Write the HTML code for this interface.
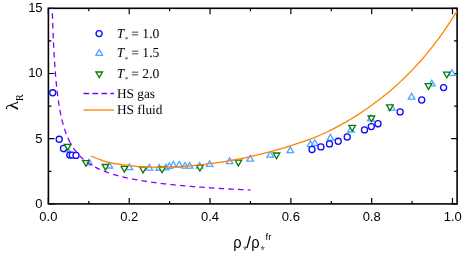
<!DOCTYPE html>
<html><head><meta charset="utf-8"><title>chart</title>
<style>
html,body{margin:0;padding:0;background:#fff;}
body{width:463px;height:256px;overflow:hidden;}
svg{display:block;}
.tk{font-family:"Liberation Sans",sans-serif;font-size:13px;fill:#000;}
.lg{font-family:"Liberation Serif",serif;font-size:13px;fill:#000;text-rendering:geometricPrecision;}
</style></head><body>
<svg width="463" height="256" viewBox="0 0 463 256">
<rect width="463" height="256" fill="#fff"/>
<g opacity="0.999">
<rect x="48.40" y="8.30" width="408.70" height="195.60" fill="none" stroke="#000" stroke-width="1.6"/>
<path d="M48.40,203.90 v-6.00 M48.40,8.30 v6.00 M88.81,203.90 v-3.00 M88.81,8.30 v3.00 M129.22,203.90 v-6.00 M129.22,8.30 v6.00 M169.63,203.90 v-3.00 M169.63,8.30 v3.00 M210.04,203.90 v-6.00 M210.04,8.30 v6.00 M250.45,203.90 v-3.00 M250.45,8.30 v3.00 M290.86,203.90 v-6.00 M290.86,8.30 v6.00 M331.27,203.90 v-3.00 M331.27,8.30 v3.00 M371.68,203.90 v-6.00 M371.68,8.30 v6.00 M412.09,203.90 v-3.00 M412.09,8.30 v3.00 M452.50,203.90 v-6.00 M452.50,8.30 v6.00 M48.40,203.90 h6.00 M457.10,203.90 h-6.00 M48.40,171.30 h3.00 M457.10,171.30 h-3.00 M48.40,138.70 h6.00 M457.10,138.70 h-6.00 M48.40,106.10 h3.00 M457.10,106.10 h-3.00 M48.40,73.50 h6.00 M457.10,73.50 h-6.00 M48.40,40.90 h3.00 M457.10,40.90 h-3.00 M48.40,8.30 h6.00 M457.10,8.30 h-6.00" stroke="#000" stroke-width="1.2" fill="none"/>
<g fill="#fff" stroke="#4da6ff" stroke-width="1.30"><path d="M67.00,146.20 L70.30,151.90 L63.70,151.90 Z"/><path d="M89.00,159.20 L92.30,164.90 L85.70,164.90 Z"/><path d="M109.40,162.30 L112.70,168.00 L106.10,168.00 Z"/><path d="M129.30,163.90 L132.60,169.60 L126.00,169.60 Z"/><path d="M149.30,164.45 L152.60,170.15 L146.00,170.15 Z"/><path d="M159.25,164.55 L162.55,170.25 L155.95,170.25 Z"/><path d="M165.80,164.25 L169.10,169.95 L162.50,169.95 Z"/><path d="M169.30,162.75 L172.60,168.45 L166.00,168.45 Z"/><path d="M173.30,161.45 L176.60,167.15 L170.00,167.15 Z"/><path d="M179.30,161.45 L182.60,167.15 L176.00,167.15 Z"/><path d="M185.10,162.45 L188.40,168.15 L181.80,168.15 Z"/><path d="M189.50,162.45 L192.80,168.15 L186.20,168.15 Z"/><path d="M199.60,162.45 L202.90,168.15 L196.30,168.15 Z"/><path d="M209.60,160.75 L212.90,166.45 L206.30,166.45 Z"/><path d="M229.60,157.90 L232.90,163.60 L226.30,163.60 Z"/><path d="M250.10,155.40 L253.40,161.10 L246.80,161.10 Z"/><path d="M270.20,151.50 L273.50,157.20 L266.90,157.20 Z"/><path d="M290.30,146.90 L293.60,152.60 L287.00,152.60 Z"/><path d="M310.50,140.90 L313.80,146.60 L307.20,146.60 Z"/><path d="M314.80,139.80 L318.10,145.50 L311.50,145.50 Z"/><path d="M330.40,134.40 L333.70,140.10 L327.10,140.10 Z"/><path d="M350.90,126.30 L354.20,132.00 L347.60,132.00 Z"/><path d="M370.80,115.10 L374.10,120.80 L367.50,120.80 Z"/><path d="M391.80,104.50 L395.10,110.20 L388.50,110.20 Z"/><path d="M411.60,93.40 L414.90,99.10 L408.30,99.10 Z"/><path d="M431.80,80.20 L435.10,85.90 L428.50,85.90 Z"/><path d="M451.90,69.70 L455.20,75.40 L448.60,75.40 Z"/></g>
<g fill="#fff" stroke="#0a0aff" stroke-width="1.30"><circle cx="52.70" cy="92.80" r="3.05"/><circle cx="59.20" cy="139.30" r="3.05"/><circle cx="63.50" cy="148.50" r="3.05"/><circle cx="69.80" cy="155.10" r="3.05"/><circle cx="72.20" cy="155.10" r="3.05"/><circle cx="76.00" cy="155.40" r="3.05"/><circle cx="312.00" cy="149.50" r="3.05"/><circle cx="320.90" cy="146.90" r="3.05"/><circle cx="329.50" cy="143.90" r="3.05"/><circle cx="338.20" cy="141.30" r="3.05"/><circle cx="347.20" cy="137.00" r="3.05"/><circle cx="364.50" cy="129.90" r="3.05"/><circle cx="371.30" cy="126.60" r="3.05"/><circle cx="378.00" cy="123.70" r="3.05"/><circle cx="400.10" cy="111.90" r="3.05"/><circle cx="421.70" cy="100.00" r="3.05"/><circle cx="443.60" cy="87.60" r="3.05"/></g>
<g fill="#fff" stroke="#0a7a0a" stroke-width="1.30"><path d="M67.70,150.10 L71.00,144.40 L64.40,144.40 Z"/><path d="M86.00,166.25 L89.30,160.55 L82.70,160.55 Z"/><path d="M105.50,170.20 L108.80,164.50 L102.20,164.50 Z"/><path d="M124.40,172.10 L127.70,166.40 L121.10,166.40 Z"/><path d="M143.10,172.90 L146.40,167.20 L139.80,167.20 Z"/><path d="M162.10,172.70 L165.40,167.00 L158.80,167.00 Z"/><path d="M199.90,171.00 L203.20,165.30 L196.60,165.30 Z"/><path d="M238.40,165.90 L241.70,160.20 L235.10,160.20 Z"/><path d="M276.50,158.70 L279.80,153.00 L273.20,153.00 Z"/><path d="M352.20,131.00 L355.50,125.30 L348.90,125.30 Z"/><path d="M371.40,121.70 L374.70,116.00 L368.10,116.00 Z"/><path d="M389.90,110.60 L393.20,104.90 L386.60,104.90 Z"/><path d="M428.50,89.40 L431.80,83.70 L425.20,83.70 Z"/><path d="M446.80,77.80 L450.10,72.10 L443.50,72.10 Z"/></g>
<path d="M52.21,8.30 L52.25,9.59 L52.29,10.88 L52.33,12.15 L52.37,13.42 L52.41,14.68 L52.45,15.93 L52.49,17.18 L52.53,18.41 L52.57,19.64 L52.61,20.85 L52.66,22.06 L52.70,23.27 L52.74,24.46 L52.78,25.65 L52.83,26.83 L52.87,28.00 L52.92,29.16 L52.96,30.31 L53.01,31.46 L53.05,32.60 L53.10,33.74 L53.15,34.86 L53.20,35.98 L53.24,37.09 L53.29,38.19 L53.34,39.29 L53.39,40.38 L53.44,41.46 L53.49,42.53 L53.54,43.60 L53.59,44.66 L53.65,45.71 L53.70,46.76 L53.75,47.79 L53.80,48.83 L53.86,49.85 L53.91,50.87 L53.97,51.88 L54.02,52.89 L54.08,53.89 L54.14,54.88 L54.19,55.86 L54.25,56.84 L54.31,57.81 L54.37,58.78 L54.43,59.74 L54.49,60.69 L54.55,61.64 L54.61,62.58 L54.67,63.51 L54.74,64.44 L54.80,65.36 L54.86,66.28 L54.93,67.19 L54.99,68.09 L55.06,68.99 L55.13,69.88 L55.19,70.77 L55.26,71.65 L55.33,72.52 L55.40,73.39 L55.47,74.26 L55.54,75.11 L55.61,75.96 L55.68,76.81 L55.76,77.65 L55.83,78.49 L55.90,79.31 L55.98,80.14 L56.06,80.96 L56.13,81.77 L56.21,82.58 L56.29,83.38 L56.37,84.18 L56.45,84.97 L56.53,85.75 L56.61,86.54 L56.69,87.31 L56.77,88.08 L56.86,88.85 L56.94,89.61 L57.03,90.36 L57.11,91.11 L57.20,91.86 L57.29,92.60 L57.38,93.34 L57.47,94.07 L57.56,94.79 L57.65,95.52 L57.74,96.23 L57.83,96.94 L57.93,97.65 L58.02,98.35 L58.12,99.05 L58.22,99.74 L58.32,100.43 L58.41,101.12 L58.51,101.80 L58.62,102.47 L58.72,103.14 L58.82,103.81 L58.93,104.47 L59.03,105.13 L59.14,105.78 L59.24,106.43 L59.35,107.07 L59.46,107.71 L59.57,108.35 L59.68,108.98 L59.80,109.61 L59.91,110.23 L60.03,110.85 L60.14,111.47 L60.26,112.08 L60.38,112.69 L60.50,113.29 L60.62,113.89 L60.74,114.48 L60.87,115.07 L60.99,115.66 L61.12,116.24 L61.24,116.82 L61.37,117.40 L61.50,117.97 L61.63,118.54 L61.76,119.10 L61.90,119.67 L62.03,120.22 L62.17,120.78 L62.31,121.32 L62.45,121.87 L62.59,122.41 L62.73,122.95 L62.87,123.49 L63.02,124.02 L63.16,124.55 L63.31,125.07 L63.46,125.59 L63.61,126.11 L63.76,126.62 L63.92,127.14 L64.07,127.64 L64.23,128.15 L64.39,128.65 L64.55,129.15 L64.71,129.64 L64.87,130.13 L65.04,130.62 L65.20,131.10 L65.37,131.58 L65.54,132.06 L65.71,132.54 L65.88,133.01 L66.06,133.48 L66.24,133.94 L66.41,134.41 L66.59,134.87 L66.78,135.32 L66.96,135.78 L67.14,136.23 L67.33,136.67 L67.52,137.12 L67.71,137.56 L67.91,138.00 L68.10,138.43 L68.30,138.87 L68.50,139.30 L68.70,139.72 L68.90,140.15 L69.11,140.57 L69.31,140.99 L69.52,141.40 L69.73,141.82 L69.95,142.23 L70.16,142.64" fill="none" stroke="#8000ff" stroke-width="1.3" stroke-dasharray="5.5 4.2" stroke-dashoffset="4.70"/>
<path d="M70.16,142.64 L70.38,143.04 L70.60,143.44 L70.82,143.84 L71.05,144.24 L71.27,144.63 L71.50,145.03 L71.73,145.42 L71.97,145.80 L72.20,146.19 L72.44,146.57 L72.68,146.95 L72.92,147.32 L73.17,147.70 L73.42,148.07 L73.67,148.44 L73.92,148.80 L74.17,149.17 L74.43,149.53 L74.69,149.89 L74.95,150.25 L75.22,150.60 L75.49,150.95 L75.76,151.30 L76.03,151.65 L76.31,152.00 L76.59,152.34 L76.87,152.68 L77.15,153.02 L77.44,153.36 L77.73,153.69 L78.03,154.02 L78.32,154.35 L78.62,154.68 L78.92,155.01 L79.23,155.33 L79.54,155.65 L79.85,155.97 L80.16,156.29 L80.48,156.60 L80.80,156.91 L81.13,157.22 L81.45,157.53 L81.78,157.84 L82.12,158.14 L82.45,158.45 L82.79,158.75 L83.14,159.05 L83.49,159.34 L83.84,159.64 L84.19,159.93 L84.55,160.22 L84.91,160.51 L85.28,160.80 L85.64,161.08 L86.02,161.36 L86.39,161.65 L86.77,161.92 L87.16,162.20 L87.54,162.48 L87.94,162.75 L88.33,163.02 L88.73,163.29 L89.13,163.56 L89.54,163.83 L89.95,164.09 L90.37,164.36 L90.79,164.62 L91.21,164.88 L91.64,165.14 L92.07,165.39 L92.51,165.65 L92.95,165.90 L93.40,166.15 L93.85,166.40 L94.30,166.65 L94.76,166.90 L95.22,167.14 L95.69,167.38 L96.16,167.62 L96.64,167.86 L97.12,168.10 L97.61,168.34 L98.10,168.57 L98.60,168.81 L99.10,169.04 L99.61,169.27 L100.12,169.50 L100.64,169.73 L101.16,169.95 L101.69,170.18 L102.22,170.40 L102.76,170.62 L103.30,170.84 L103.85,171.06 L104.41,171.28 L104.97,171.49 L105.53,171.71 L106.10,171.92 L106.68,172.13 L107.26,172.34 L107.85,172.55 L108.45,172.76 L109.05,172.96 L109.65,173.17 L110.27,173.37 L110.88,173.57 L111.51,173.77 L112.14,173.97 L112.78,174.17 L113.42,174.37 L114.07,174.56 L114.73,174.76 L115.39,174.95 L116.06,175.14 L116.74,175.33 L117.42,175.52 L118.11,175.71 L118.81,175.89 L119.51,176.08 L120.22,176.26 L120.94,176.45 L121.67,176.63 L122.40,176.81 L123.14,176.99 L123.89,177.16 L124.64,177.34 L125.41,177.52 L126.18,177.69 L126.95,177.86 L127.74,178.04 L128.53,178.21 L129.33,178.38 L130.14,178.55 L130.96,178.71 L131.79,178.88 L132.62,179.05 L133.46,179.21 L134.31,179.37 L135.17,179.54 L136.04,179.70 L136.92,179.86 L137.80,180.02 L138.69,180.17 L139.60,180.33 L140.51,180.49 L141.43,180.64 L142.36,180.79 L143.30,180.95 L144.25,181.10 L145.21,181.25 L146.18,181.40 L147.15,181.55 L148.14,181.70 L149.14,181.84 L150.15,181.99 L151.16,182.13 L152.19,182.28 L153.23,182.42 L154.28,182.56 L155.34,182.70 L156.41,182.84 L157.49,182.98 L158.58,183.12 L159.68,183.26 L160.79,183.40 L161.91,183.53 L163.05,183.67 L164.20,183.80 L165.35,183.93 L166.52,184.06 L167.71,184.20 L168.90,184.33 L170.10,184.45 L171.32,184.58 L172.55,184.71 L173.79,184.84 L175.04,184.96 L176.31,185.09 L177.59,185.21 L178.88,185.34 L180.19,185.46 L181.51,185.58 L182.84,185.70 L184.18,185.82 L185.54,185.94 L186.91,186.06 L188.29,186.18 L189.69,186.30 L191.11,186.41 L192.53,186.53 L193.98,186.64 L195.43,186.76 L196.90,186.87 L198.39,186.98 L199.89,187.10 L201.40,187.21 L202.93,187.32 L204.48,187.43 L206.04,187.54 L207.61,187.64 L209.21,187.75 L210.81,187.86 L212.44,187.96 L214.08,188.07 L215.73,188.17 L217.41,188.28 L219.10,188.38 L220.81,188.48 L222.53,188.59 L224.27,188.69 L226.03,188.79 L227.81,188.89 L229.60,188.99 L231.41,189.09 L233.24,189.18 L235.09,189.28 L236.96,189.38 L238.84,189.47 L240.75,189.57 L242.67,189.66 L244.61,189.76 L246.58,189.85 L248.56,189.94 L250.45,190.03" fill="none" stroke="#8000ff" stroke-width="1.3" stroke-dasharray="5.5 4.2" stroke-dashoffset="3.33"/>
<path d="M90.80,155.99 L97.01,158.51 L100.00,159.63 L103.21,160.76 L109.00,162.63 L109.42,162.71 L115.62,163.74 L121.00,164.46 L121.83,164.59 L128.03,165.48 L134.24,166.19 L136.00,166.36 L140.44,166.73 L146.65,167.12 L147.00,167.13 L152.85,167.22 L158.00,167.19 L159.06,167.17 L165.26,167.03 L170.00,166.84 L171.47,166.81 L177.67,166.59 L181.00,166.43 L183.88,166.26 L190.08,165.82 L196.29,165.29 L197.00,165.22 L202.49,164.63 L208.70,163.87 L214.00,163.16 L214.90,163.04 L221.11,162.10 L227.31,161.09 L233.52,159.99 L235.00,159.71 L239.72,158.80 L245.93,157.53 L252.13,156.17 L258.34,154.72 L260.00,154.31 L264.54,153.18 L270.75,151.55 L276.95,149.82 L280.00,148.93 L283.16,148.04 L289.36,146.19 L295.57,144.22 L300.00,142.74 L301.77,142.13 L307.98,139.90 L314.18,137.53 L320.39,134.99 L325.00,133.01 L326.59,132.24 L332.80,129.14 L339.00,125.85 L345.21,122.37 L350.00,119.53 L351.41,118.69 L357.62,114.85 L363.82,110.77 L370.03,106.43 L376.23,101.84 L378.00,100.48 L382.44,97.11 L388.64,92.15 L393.00,88.48 L394.85,86.84 L401.05,81.11 L407.26,75.04 L413.00,69.10 L413.46,68.62 L419.67,61.97 L423.00,58.24 L425.87,54.83 L432.08,47.15 L438.00,39.44 L438.28,39.05 L444.49,30.34 L450.00,22.23 L450.69,21.16 L456.90,11.36" fill="none" stroke="#ff8000" stroke-width="1.3"/>
<text class="tk" x="48.40" y="220.9" text-anchor="middle">0.0</text>
<text class="tk" x="129.22" y="220.9" text-anchor="middle">0.2</text>
<text class="tk" x="210.04" y="220.9" text-anchor="middle">0.4</text>
<text class="tk" x="290.86" y="220.9" text-anchor="middle">0.6</text>
<text class="tk" x="371.68" y="220.9" text-anchor="middle">0.8</text>
<text class="tk" x="452.80" y="220.9" text-anchor="middle">1.0</text>
<text class="tk" x="42.6" y="207.85" text-anchor="end">0</text>
<text class="tk" x="42.6" y="142.65" text-anchor="end">5</text>
<text class="tk" x="42.6" y="77.45" text-anchor="end">10</text>
<text class="tk" x="42.6" y="12.25" text-anchor="end">15</text>
<g fill="none" stroke-width="1.30">
<g stroke="#0a0aff"><circle cx="99.10" cy="33.60" r="3.05"/></g>
<g stroke="#4da6ff"><path d="M99.20,49.60 L102.50,55.30 L95.90,55.30 Z"/></g>
<g stroke="#0a7a0a"><path d="M99.20,77.70 L102.50,72.00 L95.90,72.00 Z"/></g>
</g>
<path d="M83.5,93.5 H114" stroke="#8000ff" stroke-width="1.3" stroke-dasharray="5.6 3.4" fill="none"/>
<path d="M83.5,110 H114" stroke="#ff8000" stroke-width="1.3" fill="none"/>
<text class="lg" font-size="13.6" style="font-size:13.6px" y="37.5"><tspan x="116.8" font-style="italic">T</tspan><tspan x="124.4" font-size="8" style="font-size:8px" dy="4.4" fill="#555">*</tspan><tspan x="131.3" dy="-4.4">= 1.0</tspan></text>
<text class="lg" font-size="13.6" style="font-size:13.6px" y="57.4"><tspan x="116.8" font-style="italic">T</tspan><tspan x="124.4" font-size="8" style="font-size:8px" dy="4.4" fill="#555">*</tspan><tspan x="131.3" dy="-4.4">= 1.5</tspan></text>
<text class="lg" font-size="13.6" style="font-size:13.6px" y="77.9"><tspan x="116.8" font-style="italic">T</tspan><tspan x="124.4" font-size="8" style="font-size:8px" dy="4.4" fill="#555">*</tspan><tspan x="131.3" dy="-4.4">= 2.0</tspan></text>
<text class="lg" style="font-size:13.3px" x="117.0" y="98.3">HS gas</text>
<text class="lg" style="font-size:13.3px" x="117.0" y="114.1">HS fluid</text>
<g transform="translate(18,110.3) rotate(-90)" style="font-family:'Liberation Serif',serif" fill="#000"><text transform="scale(1.13,1)" x="0" y="0" font-size="17">λ</text><text x="9.3" y="5" font-size="10">R</text></g>
<g style="font-family:'Liberation Sans',sans-serif" fill="#000"><text transform="translate(233.25,248.1) scale(0.86,1)" font-size="17">ρ</text><text x="242.9" y="253.6" font-size="11" fill="#444">*</text><text x="246.3" y="248.1" font-size="17">/</text><text transform="translate(251.2,248.1) scale(0.86,1)" font-size="17">ρ</text><text x="260.5" y="253.8" font-size="11" fill="#444">*</text><text x="265.5" y="239.8" font-size="9.5">fr</text></g>
</g></svg></body></html>
